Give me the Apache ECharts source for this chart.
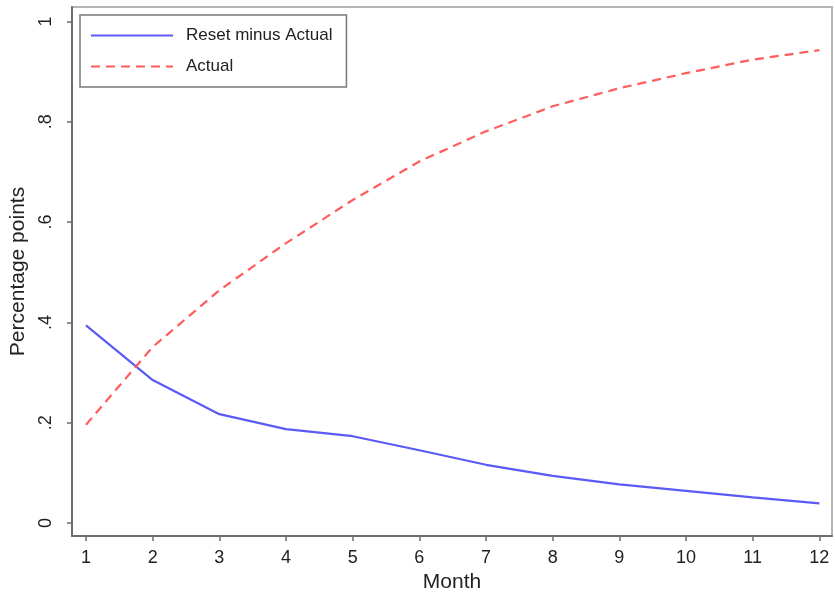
<!DOCTYPE html>
<html>
<head>
<meta charset="utf-8">
<script src="https://cdn.jsdelivr.net/npm/echarts@6/dist/echarts.min.js"></script>
<style>
  html, body { margin: 0; padding: 0; background: #fff; }
  #chart { width: 835px; height: 595px; }
</style>
</head>
<body>
<div id="chart"></div>
<script>
// Months on the horizontal axis
const months = [1, 2, 3, 4, 5, 6, 7, 8, 9, 10, 11, 12];
// Difference between the reset path and the actual path
const resetMinusActual = [0.394, 0.285, 0.217, 0.187, 0.173, 0.145, 0.116, 0.094, 0.077, 0.064, 0.051, 0.039];
// Actual path
const actual = [0.196, 0.351, 0.464, 0.558, 0.644, 0.721, 0.781, 0.831, 0.867, 0.897, 0.924, 0.943];
// Tick positions
const yTicks = [0, 0.2, 0.4, 0.6, 0.8, 1];
const xTicks = months;

const font = 'Liberation Sans, Arial, Helvetica, sans-serif';
const chart = echarts.init(document.getElementById('chart'));

const pairs = (ys) => months.map((m, i) => [m, ys[i]]);

chart.setOption({
  animation: false,
  textStyle: { fontFamily: font },
  grid: {
    left: 72, right: 3, top: 7, bottom: 59,
    outerBoundsMode: 'none',
    containLabel: false,
    show: true, borderColor: '#b4b4b4', borderWidth: 2, backgroundColor: '#fff'
  },
  legend: {
    orient: 'vertical',
    left: 80, top: 15,
    padding: [12, 14, 12, 10],
    itemWidth: 82, itemHeight: 20, itemGap: 14,
    itemStyle: { opacity: 0 },
    borderColor: '#7a7a7a', borderWidth: 1.5,
    backgroundColor: '#fff',
    textStyle: { fontSize: 17, color: '#222', fontFamily: font, padding: [0, 0, 0, 8] },
    data: ['Reset minus Actual', 'Actual']
  },
  xAxis: {
    type: 'value',
    min: 0.79, max: 12.19,
    name: 'Month',
    nameLocation: 'middle',
    nameGap: 34,
    nameTextStyle: { fontSize: 21, color: '#222', fontFamily: font },
    axisLine: { show: true, onZero: false, lineStyle: { color: '#6e6e6e', width: 2 } },
    axisTick: { show: true, length: 5, customValues: xTicks, lineStyle: { color: '#6e6e6e', width: 1.5 } },
    axisLabel: { customValues: xTicks, fontSize: 18, color: '#222', margin: 13, fontFamily: font },
    splitLine: { show: false }
  },
  yAxis: {
    type: 'value',
    min: -0.026, max: 1.029,
    name: 'Percentage points',
    nameLocation: 'middle',
    nameGap: 39,
    nameRotate: 90,
    nameTextStyle: { fontSize: 21, color: '#222', fontFamily: font },
    axisLine: { show: true, onZero: false, lineStyle: { color: '#6e6e6e', width: 2 } },
    axisTick: { show: true, length: 5, customValues: yTicks, lineStyle: { color: '#6e6e6e', width: 1.5 } },
    axisLabel: {
      customValues: yTicks,
      rotate: 90,
      fontSize: 18, color: '#222', margin: 17, fontFamily: font,
      formatter: (v) => {
        if (v === 0) return '0';
        if (Math.abs(v - 1) < 1e-9) return '1';
        return '.' + Math.round(v * 10);
      }
    },
    splitLine: { show: false }
  },
  series: [
    {
      name: 'Reset minus Actual',
      type: 'line',
      data: pairs(resetMinusActual),
      showSymbol: false,
      symbol: 'none',
      lineStyle: { color: '#5a5af5', width: 2.2 },
      itemStyle: { color: '#5a5af5' }
    },
    {
      name: 'Actual',
      type: 'line',
      data: pairs(actual),
      showSymbol: false,
      symbol: 'none',
      lineStyle: { color: '#ff5c5c', width: 2.2, type: [9, 6] },
      itemStyle: { color: '#ff5c5c' }
    }
  ]
});
</script>
</body>
</html>
